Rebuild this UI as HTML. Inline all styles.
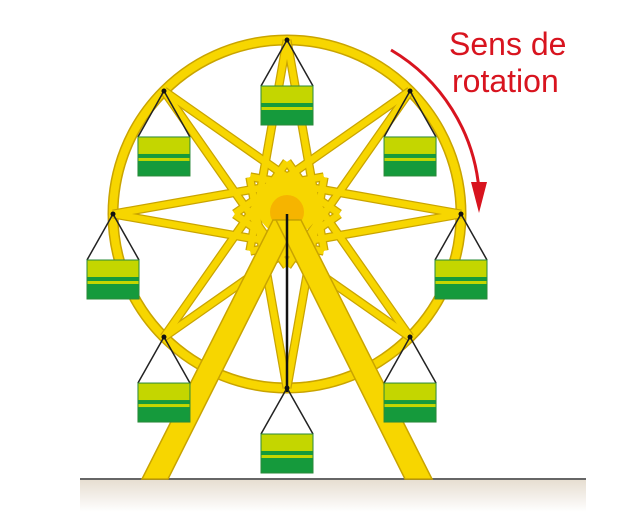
<!DOCTYPE html>
<html><head><meta charset="utf-8"><style>
body{margin:0;background:#fff;width:634px;height:520px;overflow:hidden}
svg{display:block}
text{font-family:"Liberation Sans",Arial,sans-serif;fill:#d8141f;font-size:32px}
</style></head><body>
<svg width="634" height="520" viewBox="0 0 634 520" xmlns="http://www.w3.org/2000/svg">
<defs>
<linearGradient id="g" x1="0" y1="0" x2="0" y2="1"><stop offset="0" stop-color="#e6ddd0"/><stop offset="1" stop-color="#fff"/></linearGradient>
</defs>
<rect x="80" y="479" width="506" height="33" fill="url(#g)"/>
<line x1="80" y1="479" x2="586" y2="479" stroke="#666" stroke-width="2"/>
<g id="w"></g>
<text x="449" y="55">Sens de</text>
<text x="452" y="92">rotation</text>
<path d="M391,50 A180,180 0 0 1 479,190" fill="none" stroke="#d8141f" stroke-width="3"/>
<polygon points="471,182 487,182 479,213" fill="#d8141f"/>
</svg>
<script>
const cx=287,cy=214,R=174,ns="http://www.w3.org/2000/svg",g=document.getElementById('w');
function el(t,a){const e=document.createElementNS(ns,t);for(const k in a)e.setAttribute(k,a[k]);g.appendChild(e);return e;}
function P(a){const r=a*Math.PI/180;return [cx+R*Math.sin(r),cy-R*Math.cos(r)];}
const lines=[];
for(let i=0;i<8;i++){const a=i*45,p=P(a);for(const d of [-20,20]){const q=P(a+180+d);const dx=q[0]-p[0],dy=q[1]-p[1],L=Math.hypot(dx,dy),t=(R+40)/L;lines.push([p,[p[0]+dx*t,p[1]+dy*t]]);}}
el('circle',{cx,cy,r:R,fill:'none',stroke:'#c9a400','stroke-width':11});
el('circle',{cx,cy,r:R,fill:'none',stroke:'#f7d600','stroke-width':8});
for(const [p,q] of lines)el('line',{x1:p[0],y1:p[1],x2:q[0],y2:q[1],stroke:'#c9a400','stroke-width':9});
for(const [p,q] of lines)el('line',{x1:p[0],y1:p[1],x2:q[0],y2:q[1],stroke:'#f7d600','stroke-width':6.5});
el('circle',{cx:288,cy:205,r:31,fill:'#f7d600'});
el('circle',{cx,cy:212,r:17,fill:'#f6b400'});
const legs=[[[273,220],[298,220],[168,479],[142,479]],[[276,220],[301,220],[432,479],[405,479]]];
for(const L of legs)el('polygon',{points:L.map(p=>p.join(',')).join(' '),fill:'#f7d600',stroke:'#c9a400','stroke-width':1.5});
el('line',{x1:cx,y1:214,x2:cx,y2:392,stroke:'#111','stroke-width':2.5});
for(let i=0;i<8;i++){const p=P(i*45),x=p[0],y=p[1];const bx=x-26,by=y+46;
el('line',{x1:x,y1:y,x2:bx,y2:by,stroke:'#222','stroke-width':1.5});
el('line',{x1:x,y1:y,x2:bx+52,y2:by,stroke:'#222','stroke-width':1.5});
el('circle',{cx:x,cy:y,r:2.5,fill:'#111'});
el('rect',{x:bx,y:by,width:52,height:39,fill:'#159a3c'});
el('rect',{x:bx,y:by,width:52,height:17,fill:'#c4d600'});
el('rect',{x:bx,y:by+21,width:52,height:3,fill:'#c4d600'});
el('rect',{x:bx,y:by,width:52,height:39,fill:'none',stroke:'#2a8a3a','stroke-width':1});
}
</script>
</body></html>
